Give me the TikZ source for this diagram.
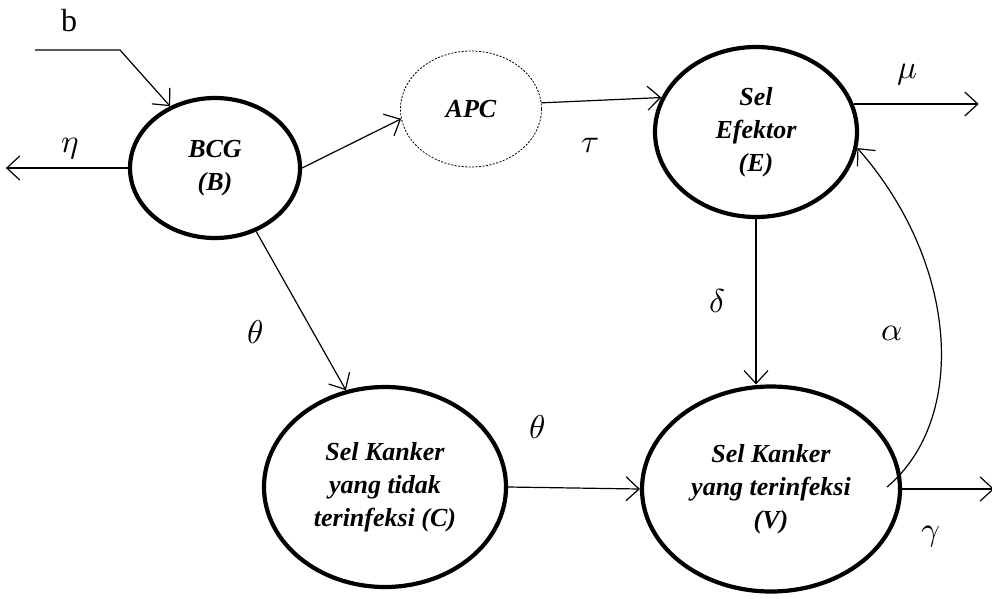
\documentclass[tikz,border=0pt]{standalone}
\usepackage{unicode-math}
\setmainfont{Liberation Serif}
\usetikzlibrary{shapes.geometric,arrows.meta}
\newcommand\greeklab[1]{\scalebox{1.65}{$#1$}}
\begin{document}
\begin{tikzpicture}[x=1pt,y=-1pt,
  comp/.style={ellipse,draw,line width=4.2pt,inner sep=0pt,align=center,
    font=\fontsize{26}{33}\selectfont\bfseries\itshape},
  apcnode/.style={ellipse,draw,line width=0.8pt,dash pattern=on 2pt off 1.5pt,inner sep=0pt,align=center,
    font=\fontsize{26}{33}\selectfont\bfseries\itshape},
  flow/.style={line width=1.2pt,-{Straight Barb[length=13pt,width=24pt,line width=1.2pt]}},
  lab/.style={font=\fontsize{20}{24}\selectfont,inner sep=0pt}]
\useasboundingbox (0,0) rectangle (992,598);
\node[comp,minimum width=170pt,minimum height=140pt] (B) at (215,168) {BCG\\(B)};
\node[apcnode,minimum width=141pt,minimum height=116pt] (A) at (471,109) {APC};
\node[comp,minimum width=202pt,minimum height=170pt] (E) at (756,132) {Sel\\Efektor\\(E)};
\node[comp,minimum width=242pt,minimum height=200pt] (C) at (385,487) {Sel Kanker\\yang tidak\\terinfeksi (C)};
\node[comp,minimum width=258pt,minimum height=205pt] (V) at (771,489) {Sel Kanker\\yang terinfeksi\\(V)};
\coordinate (b0) at (35,50);
\coordinate (b1) at (120,50);
\draw[flow] (b0) -- (b1) -- (B.126);
\draw[flow] (B.west) -- ++(-122,0) coordinate (etaend);
\draw[flow] (B.east) -- (A.188);
\draw[flow] (A.5) -- (E.160);
\draw[flow] (E.16.5) -- ++(125,0) coordinate (muend);
\draw[flow] (E.south) -- (E.south |- V.north);
\draw[flow] (B.-57) -- (C.112);
\draw[flow] (C.east) -- (V.west);
\draw[flow] (V.east) -- ++(92,0) coordinate (gamend);
\coordinate (vs) at (887,487);
\draw[flow] (vs) .. controls (967,420) and (960,265) .. (E.-9);
\node[lab] (lb) at (69,21) {\scalebox{1.6}{b}};
\node[lab] (leta) at (70,149) {\greeklab{\eta}};
\node[lab] (ltau) at (590,146) {\greeklab{\tau}};
\node[lab] (lmu) at (907,75) {\greeklab{\mu}};
\node[lab] (ldelta) at (717,301) {\greeklab{\delta}};
\node[lab] (ltheta1) at (255,332) {\greeklab{\theta}};
\node[lab] (ltheta2) at (537,427) {\greeklab{\theta}};
\node[lab] (lalpha) at (892,333) {\greeklab{\alpha}};
\node[lab] (lgamma) at (931,537) {\greeklab{\gamma}};
\end{tikzpicture}
\end{document}
